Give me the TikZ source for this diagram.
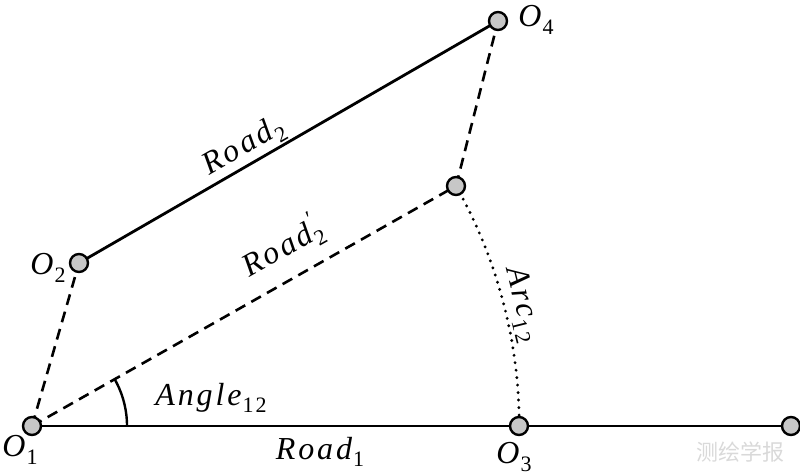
\documentclass[tikz,border=0pt]{standalone}
\usepackage{fontspec}
\setmainfont{Liberation Serif}
\newfontfamily\labf{Liberation Serif}[LetterSpace=9]
\newfontfamily\cjk{Noto Sans CJK SC}
\usetikzlibrary{backgrounds}
\newcommand{\subsz}{\fontsize{22}{22}\selectfont}
\newcommand{\lbl}[2]{{\itshape #1}\kern1pt\raisebox{-0.24em}{\subsz #2}}
\begin{document}
\begin{tikzpicture}[x=1pt,y=1pt,
  pt/.style={circle,draw=black,line width=2.4pt,fill=black!22,minimum size=18pt,inner sep=0pt},
  solidline/.style={line width=2.8pt},
  dashline/.style={line width=2.6pt,dash pattern=on 11pt off 7pt},
  dotline/.style={line width=3.2pt,dash pattern=on 0pt off 7.5pt,line cap=round},
  txt/.style={font=\labf\fontsize{32}{32}\selectfont,inner sep=0pt}]
\useasboundingbox (0,0) rectangle (800,476);
\node[pt] (O1) at (32,50) {};
\node[pt] (O3) at (519,50) {};
\node[pt] (E) at (791,50) {};
\node[pt] (O2) at (79,213) {};
\node[pt] (O4) at (498,455) {};
\node[pt] (P) at (456,290) {};
\begin{scope}[on background layer]
\draw[solidline] (O1.center) -- (E.center);
\draw[solidline] (O2.center) -- (O4.center);
\draw[dashline] (O1.center) -- (O2.center);
\draw[dashline] (O1.center) -- (P.center);
\draw[dashline] (P.center) -- (O4.center);
\draw[dotline] (P.center) arc[start angle=29.51, end angle=0, radius=487.2];
\draw[line width=2.4pt] ([shift={(95,0)}]O1.center) arc[start angle=0, end angle=29.51, radius=95];
\end{scope}
\node[txt] (l1) at (20,26) {\lbl{O}{1}};
\node[txt] (l2) at (48,208) {\lbl{O}{2}};
\node[txt] (l3) at (514,19) {\lbl{O}{3}};
\node[txt] (l4) at (536,456) {\lbl{O}{4}};
\node[txt] (ang) at (211,78) {\lbl{Angle}{12}};
\node[txt] (r1) at (320,24) {\lbl{Road}{1}};
\node[txt,rotate=30] (r2) at (244,329) {\lbl{Road}{2}};
\node[txt,rotate=29.5] (r2p) at (282,229) {{\itshape Road}\makebox[0pt][l]{\raisebox{0.45em}{\subsz\itshape\kern2pt\char"2032}}\raisebox{-0.24em}{\subsz 2}};
\node[txt,rotate=-76] (arc) at (522,171) {\lbl{Arc}{12}};
\node[font=\cjk\fontsize{22}{22}\selectfont,text=black!15,inner sep=0pt] (wm) at (740,24) {测绘学报};
\end{tikzpicture}
\end{document}
